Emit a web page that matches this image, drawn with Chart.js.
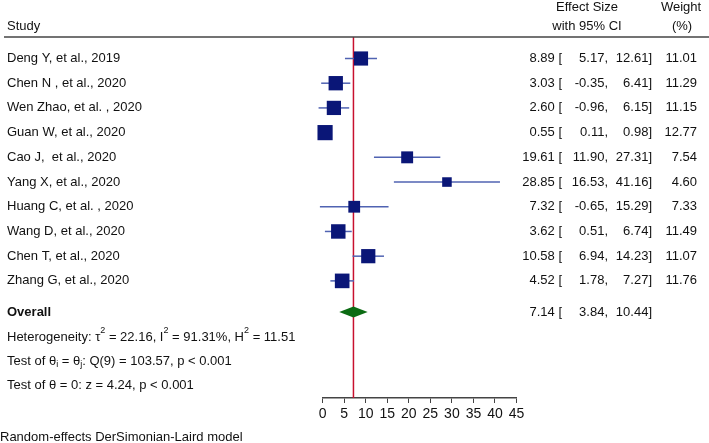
<!DOCTYPE html>
<html>
<head>
<meta charset="utf-8">
<script src="https://cdn.jsdelivr.net/npm/chart.js@4/dist/chart.umd.min.js"></script>
<style>
  body{margin:0;background:#fff;}
  canvas{display:block;}
</style>
</head>
<body>
<canvas id="forest" width="709" height="443"></canvas>
<script>
const studies = ["Deng Y, et al., 2019","Chen N , et al., 2020","Wen Zhao, et al. , 2020","Guan W, et al., 2020",
  "Cao J,  et al., 2020","Yang X, et al., 2020","Huang C, et al. , 2020","Wang D, et al., 2020",
  "Chen T, et al., 2020","Zhang G, et al., 2020"];
const effect  = [8.89, 3.03, 2.60, 0.55, 19.61, 28.85, 7.32, 3.62, 10.58, 4.52];
const lower   = [5.17, -0.35, -0.96, 0.11, 11.90, 16.53, -0.65, 0.51, 6.94, 1.78];
const upper   = [12.61, 6.41, 6.15, 0.98, 27.31, 41.16, 15.29, 6.74, 14.23, 7.27];
const weights = [11.01, 11.29, 11.15, 12.77, 7.54, 4.60, 7.33, 11.49, 11.07, 11.76];
const overallEffect = 7.14, overallLower = 3.84, overallUpper = 10.44;
const xTicks = [0, 5, 10, 15, 20, 25, 30, 35, 40, 45];

// footer lines: [text, "sup"|"sub"|undefined]
const hetLine  = [["Heterogeneity: \u03c4"],["2","sup"],[" = 22.16, I"],["2","sup"],[" = 91.31%, H"],["2","sup"],[" = 11.51"]];
const testLine = [["Test of \u03b8"],["i","sub"],[" = \u03b8"],["j","sub"],[": Q(9) = 103.57, p < 0.001"]];
const zLine    = [["Test of \u03b8 = 0: z = 4.24, p < 0.001"]];
const modelNote = "Random-effects DerSimonian-Laird model";

// row positions (in row units on the y scale)
const yMin = -0.87, yMax = 13.74;
const rowOverall = 10.26, rowHet = 11.27, rowTest = 12.25, rowZ = 13.25, rowNote = 15.32;

const FONT = "Liberation Sans, Arial, sans-serif";
const fmt = v => v.toFixed(2);

function richText(ctx, parts, x, y){
  parts.forEach(([t, kind]) => {
    if(kind){
      ctx.font = `9px ${FONT}`;
      ctx.fillText(t, x, kind === "sup" ? y - 6 : y + 3);
    } else {
      ctx.font = `13px ${FONT}`;
      ctx.fillText(t, x, y);
    }
    x += ctx.measureText(t).width;
  });
}

const diamondPlugin = {
  id: "diamond",
  afterDatasetsDraw(chart){
    const {ctx, scales:{x, y}} = chart;
    const cy = y.getPixelForValue(rowOverall), h = 5.5;
    ctx.save();
    ctx.fillStyle = "#0b6b12";
    ctx.beginPath();
    ctx.moveTo(x.getPixelForValue(overallLower), cy);
    ctx.lineTo(x.getPixelForValue(overallEffect), cy - h);
    ctx.lineTo(x.getPixelForValue(overallUpper), cy);
    ctx.lineTo(x.getPixelForValue(overallEffect), cy + h);
    ctx.closePath();
    ctx.fill();
    ctx.restore();
  }
};

const tablePlugin = {
  id: "table",
  afterDraw(chart){
    const {ctx, chartArea, scales:{y}} = chart;
    ctx.save();
    ctx.fillStyle = "#111";
    ctx.textBaseline = "middle";
    ctx.font = `13px ${FONT}`;

    // header
    ctx.textAlign = "left";
    ctx.fillText("Study", 7, 26);
    ctx.textAlign = "center";
    ctx.fillText("Effect Size", 587, 7);
    ctx.fillText("with 95% CI", 587, 26);
    ctx.fillText("Weight", 681, 7);
    ctx.fillText("(%)", 682, 26);
    ctx.strokeStyle = "#444";
    ctx.lineWidth = 1.5;
    ctx.beginPath();
    ctx.moveTo(4, chartArea.top);
    ctx.lineTo(709, chartArea.top);
    ctx.stroke();

    const row = (py, name, est, lo, hi, w, bold) => {
      ctx.font = `${bold ? "bold " : ""}13px ${FONT}`;
      ctx.textAlign = "left";
      ctx.fillText(name, 7, py);
      ctx.font = `13px ${FONT}`;
      ctx.textAlign = "right";
      ctx.fillText(fmt(est) + " [", 562, py);
      ctx.fillText(fmt(lo) + ",", 608, py);
      ctx.fillText(fmt(hi) + "]", 652, py);
      if(w !== null) ctx.fillText(fmt(w), 697, py);
    };
    studies.forEach((s, i) => row(y.getPixelForValue(i), s, effect[i], lower[i], upper[i], weights[i], false));
    row(y.getPixelForValue(rowOverall), "Overall", overallEffect, overallLower, overallUpper, null, true);

    ctx.textAlign = "left";
    richText(ctx, hetLine, 7, y.getPixelForValue(rowHet));
    richText(ctx, testLine, 7, y.getPixelForValue(rowTest));
    richText(ctx, zLine, 7, y.getPixelForValue(rowZ));
    ctx.font = `13px ${FONT}`;
    ctx.fillText(modelNote, 0, y.getPixelForValue(rowNote));
    ctx.restore();
  }
};

const ciSets = studies.map((s, i) => ({
  type: "line",
  data: [{x: lower[i], y: i}, {x: upper[i], y: i}],
  borderColor: "#5063b2",
  borderWidth: 1.5,
  pointRadius: 0,
  clip: false,
  order: 3
}));

new Chart(document.getElementById("forest"), {
  type: "scatter",
  data: {
    datasets: [
      {
        type: "line",
        data: [{x: overallEffect, y: yMin}, {x: overallEffect, y: yMax}],
        borderColor: "#c8102e",
        borderWidth: 1.5,
        pointRadius: 0,
        order: 5
      },
      ...ciSets,
      {
        data: effect.map((v, i) => ({x: v, y: i})),
        pointStyle: "rect",
        pointRadius: weights.map(w => 0.8 + 2.78 * Math.sqrt(w)),
        backgroundColor: "#0a1677",
        borderWidth: 0,
        clip: false,
        order: 1
      }
    ]
  },
  options: {
    responsive: false,
    animation: false,
    events: [],
    layout: {padding: {left: 322.7, right: 192.5, top: 37, bottom: 0}},
    plugins: {legend: {display: false}, tooltip: {enabled: false}},
    scales: {
      x: {
        type: "linear", min: 0, max: 45, position: "bottom",
        afterFit(s){ s.height = 45; },
        afterBuildTicks(s){ s.ticks = xTicks.map(v => ({value: v})); },
        ticks: {font: {family: FONT, size: 14}, color: "#111", padding: 3, maxRotation: 0, autoSkip: false},
        grid: {drawOnChartArea: false, drawTicks: true, tickLength: 5, color: "#444", lineWidth: 1},
        border: {display: true, color: "#444", width: 1.5}
      },
      y: {type: "linear", display: false, reverse: true, min: yMin, max: yMax}
    }
  },
  plugins: [diamondPlugin, tablePlugin]
});
</script>
</body>
</html>
